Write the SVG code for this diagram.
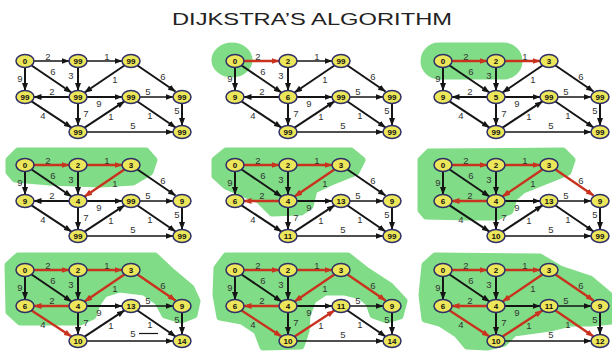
<svg xmlns="http://www.w3.org/2000/svg" width="612" height="351" viewBox="0 0 612 351">
<defs>
<marker id="ah" markerWidth="8" markerHeight="6" refX="7.5" refY="3" orient="auto" markerUnits="userSpaceOnUse"><path d="M0,0 L8,3 L0,6 z" fill="#151515"/></marker>
<marker id="ahr" markerWidth="8" markerHeight="6" refX="7.5" refY="3" orient="auto" markerUnits="userSpaceOnUse"><path d="M0,0 L8,3 L0,6 z" fill="#c8321e"/></marker>
<style>
.bg{fill:#ffffff}
.gr{fill:#80dc86;stroke:#80dc86;stroke-width:7;stroke-linejoin:round}
.e{stroke:#151515;stroke-width:2;fill:none;marker-end:url(#ah)}
.t{stroke-width:1.4}
.r{stroke:#c8321e;stroke-width:2.4;marker-end:url(#ahr)}
.n ellipse{fill:#ece65a;stroke:#2e2e66;stroke-width:1.5}
.n text{font-family:"Liberation Sans",Arial,sans-serif;font-weight:bold;font-size:8px;text-anchor:middle;fill:#111}
.w text{font-family:"Liberation Sans",Arial,sans-serif;font-size:9.5px;text-anchor:middle;fill:#333}
.title{font-family:"Liberation Sans",Arial,sans-serif;font-size:17px;fill:#222}
</style>
</defs>
<rect class="bg" x="0" y="0" width="612" height="351"/>
<text class="title" x="172" y="25" textLength="280" lengthAdjust="spacingAndGlyphs">DIJKSTRA’S ALGORITHM</text>

<!-- Panel 1 -->
<g id="panel1" transform="translate(0,0)">
<g id="p1-edges">
<path class="e t" d="M34,61 L69,61"/><path class="e t" d="M87,61 L122,61"/><path class="e" d="M25,67.5 L25,90.5"/><path class="e" d="M31.6,65.5 L71.4,92.5"/><path class="e" d="M78,67.5 L78,90.5"/><path class="e" d="M124.4,65.5 L84.6,92.5"/><path class="e" d="M137.5,65.5 L175.5,91.5"/><path class="e" d="M69,97 L34,97"/><path class="e" d="M87,97 L122,97"/><path class="e" d="M78,103.5 L78,125.5"/><path class="e" d="M31.6,101.4 L71.4,127.6"/><path class="e" d="M84.6,127.6 L124.4,101.4"/><path class="e t" d="M140,97 L173,97"/><path class="e" d="M137.5,101.5 L175.5,127.5"/><path class="e" d="M182,103.5 L182,125.5"/><path class="e t" d="M87,132 L173,132"/>
</g>
<g class="w"><text x="48" y="60">2</text><text x="107" y="60">1</text><text x="20" y="82">9</text><text x="53" y="75">6</text><text x="71" y="79">3</text><text x="115" y="83">1</text><text x="163" y="80">6</text><text x="52" y="95">2</text><text x="99" y="107">9</text><text x="148" y="95">5</text><text x="86" y="117">7</text><text x="43" y="119">4</text><text x="111" y="120">1</text><text x="150" y="119">1</text><text x="177" y="114">5</text><text x="133" y="129">5</text></g>
<g id="p1-A" class="n"><ellipse cx="25" cy="61" rx="9" ry="6.5"/><text x="25" y="63.8">0</text></g>
<g id="p1-B" class="n"><ellipse cx="78" cy="61" rx="9" ry="6.5"/><text x="78" y="63.8">99</text></g>
<g id="p1-C" class="n"><ellipse cx="131" cy="61" rx="9" ry="6.5"/><text x="131" y="63.8">99</text></g>
<g id="p1-D" class="n"><ellipse cx="25" cy="97" rx="9" ry="6.5"/><text x="25" y="99.8">99</text></g>
<g id="p1-E" class="n"><ellipse cx="78" cy="97" rx="9" ry="6.5"/><text x="78" y="99.8">99</text></g>
<g id="p1-F" class="n"><ellipse cx="131" cy="97" rx="9" ry="6.5"/><text x="131" y="99.8">99</text></g>
<g id="p1-G" class="n"><ellipse cx="182" cy="97" rx="9" ry="6.5"/><text x="182" y="99.8">99</text></g>
<g id="p1-H" class="n"><ellipse cx="78" cy="132" rx="9" ry="6.5"/><text x="78" y="134.8">99</text></g>
<g id="p1-I" class="n"><ellipse cx="182" cy="132" rx="9" ry="6.5"/><text x="182" y="134.8">99</text></g>
</g>

<!-- Panel 2 -->
<g id="panel2" transform="translate(210,0)">
<ellipse class="gr" cx="22" cy="60" rx="17" ry="14"/>
<g id="p2-edges">
<path class="e t r" d="M34,61 L69,61"/><path class="e t" d="M87,61 L122,61"/><path class="e" d="M25,67.5 L25,90.5"/><path class="e" d="M31.6,65.5 L71.4,92.5"/><path class="e" d="M78,67.5 L78,90.5"/><path class="e" d="M124.4,65.5 L84.6,92.5"/><path class="e" d="M137.5,65.5 L175.5,91.5"/><path class="e" d="M69,97 L34,97"/><path class="e" d="M87,97 L122,97"/><path class="e" d="M78,103.5 L78,125.5"/><path class="e" d="M31.6,101.4 L71.4,127.6"/><path class="e" d="M84.6,127.6 L124.4,101.4"/><path class="e t" d="M140,97 L173,97"/><path class="e" d="M137.5,101.5 L175.5,127.5"/><path class="e" d="M182,103.5 L182,125.5"/><path class="e t" d="M87,132 L173,132"/>
</g>
<g class="w"><text x="48" y="60">2</text><text x="107" y="60">1</text><text x="20" y="82">9</text><text x="53" y="75">6</text><text x="71" y="79">3</text><text x="115" y="83">1</text><text x="163" y="80">6</text><text x="52" y="95">2</text><text x="99" y="107">9</text><text x="148" y="95">5</text><text x="86" y="117">7</text><text x="43" y="119">4</text><text x="111" y="120">1</text><text x="150" y="119">1</text><text x="177" y="114">5</text><text x="133" y="129">5</text></g>
<g id="p2-A" class="n"><ellipse cx="25" cy="61" rx="9" ry="6.5"/><text x="25" y="63.8">0</text></g>
<g id="p2-B" class="n"><ellipse cx="78" cy="61" rx="9" ry="6.5"/><text x="78" y="63.8">2</text></g>
<g id="p2-C" class="n"><ellipse cx="131" cy="61" rx="9" ry="6.5"/><text x="131" y="63.8">99</text></g>
<g id="p2-D" class="n"><ellipse cx="25" cy="97" rx="9" ry="6.5"/><text x="25" y="99.8">9</text></g>
<g id="p2-E" class="n"><ellipse cx="78" cy="97" rx="9" ry="6.5"/><text x="78" y="99.8">6</text></g>
<g id="p2-F" class="n"><ellipse cx="131" cy="97" rx="9" ry="6.5"/><text x="131" y="99.8">99</text></g>
<g id="p2-G" class="n"><ellipse cx="182" cy="97" rx="9" ry="6.5"/><text x="182" y="99.8">99</text></g>
<g id="p2-H" class="n"><ellipse cx="78" cy="132" rx="9" ry="6.5"/><text x="78" y="134.8">99</text></g>
<g id="p2-I" class="n"><ellipse cx="182" cy="132" rx="9" ry="6.5"/><text x="182" y="134.8">99</text></g>
</g>

<!-- Panel 3 -->
<g id="panel3" transform="translate(418,0)">
<rect class="gr" x="6" y="46" width="95" height="30" rx="15"/>
<g id="p3-edges">
<path class="e t r" d="M34,61 L69,61"/><path class="e t r" d="M87,61 L122,61"/><path class="e" d="M25,67.5 L25,90.5"/><path class="e" d="M31.6,65.5 L71.4,92.5"/><path class="e" d="M78,67.5 L78,90.5"/><path class="e" d="M124.4,65.5 L84.6,92.5"/><path class="e" d="M137.5,65.5 L175.5,91.5"/><path class="e" d="M69,97 L34,97"/><path class="e" d="M87,97 L122,97"/><path class="e" d="M78,103.5 L78,125.5"/><path class="e" d="M31.6,101.4 L71.4,127.6"/><path class="e" d="M84.6,127.6 L124.4,101.4"/><path class="e t" d="M140,97 L173,97"/><path class="e" d="M137.5,101.5 L175.5,127.5"/><path class="e" d="M182,103.5 L182,125.5"/><path class="e t" d="M87,132 L173,132"/>
</g>
<g class="w"><text x="48" y="60">2</text><text x="107" y="60">1</text><text x="20" y="82">9</text><text x="53" y="75">6</text><text x="71" y="79">3</text><text x="115" y="83">1</text><text x="163" y="80">6</text><text x="52" y="95">2</text><text x="99" y="107">9</text><text x="148" y="95">5</text><text x="86" y="117">7</text><text x="43" y="119">4</text><text x="111" y="120">1</text><text x="150" y="119">1</text><text x="177" y="114">5</text><text x="133" y="129">5</text></g>
<g id="p3-A" class="n"><ellipse cx="25" cy="61" rx="9" ry="6.5"/><text x="25" y="63.8">0</text></g>
<g id="p3-B" class="n"><ellipse cx="78" cy="61" rx="9" ry="6.5"/><text x="78" y="63.8">2</text></g>
<g id="p3-C" class="n"><ellipse cx="131" cy="61" rx="9" ry="6.5"/><text x="131" y="63.8">3</text></g>
<g id="p3-D" class="n"><ellipse cx="25" cy="97" rx="9" ry="6.5"/><text x="25" y="99.8">9</text></g>
<g id="p3-E" class="n"><ellipse cx="78" cy="97" rx="9" ry="6.5"/><text x="78" y="99.8">5</text></g>
<g id="p3-F" class="n"><ellipse cx="131" cy="97" rx="9" ry="6.5"/><text x="131" y="99.8">99</text></g>
<g id="p3-G" class="n"><ellipse cx="182" cy="97" rx="9" ry="6.5"/><text x="182" y="99.8">99</text></g>
<g id="p3-H" class="n"><ellipse cx="78" cy="132" rx="9" ry="6.5"/><text x="78" y="134.8">99</text></g>
<g id="p3-I" class="n"><ellipse cx="182" cy="132" rx="9" ry="6.5"/><text x="182" y="134.8">99</text></g>
</g>

<!-- Panel 4 -->
<g id="panel4" transform="translate(0,104)">
<polygon class="gr" points="9,56 18,47 146,47 154,56 150,68 133,78 100,80 50,78 15,75 9,68"/>
<g id="p4-edges">
<path class="e t r" d="M34,61 L69,61"/><path class="e t r" d="M87,61 L122,61"/><path class="e" d="M25,67.5 L25,90.5"/><path class="e" d="M31.6,65.5 L71.4,92.5"/><path class="e" d="M78,67.5 L78,90.5"/><path class="e r" d="M124.4,65.5 L84.6,92.5"/><path class="e" d="M137.5,65.5 L175.5,91.5"/><path class="e" d="M69,97 L34,97"/><path class="e" d="M87,97 L122,97"/><path class="e" d="M78,103.5 L78,125.5"/><path class="e" d="M31.6,101.4 L71.4,127.6"/><path class="e" d="M84.6,127.6 L124.4,101.4"/><path class="e t" d="M140,97 L173,97"/><path class="e" d="M137.5,101.5 L175.5,127.5"/><path class="e" d="M182,103.5 L182,125.5"/><path class="e t" d="M87,132 L173,132"/>
</g>
<g class="w"><text x="48" y="60">2</text><text x="107" y="60">1</text><text x="20" y="82">9</text><text x="53" y="75">6</text><text x="71" y="79">3</text><text x="115" y="83">1</text><text x="163" y="80">6</text><text x="52" y="95">2</text><text x="99" y="107">9</text><text x="148" y="95">5</text><text x="86" y="117">7</text><text x="43" y="119">4</text><text x="111" y="120">1</text><text x="150" y="119">1</text><text x="177" y="114">5</text><text x="133" y="129">5</text></g>
<g id="p4-A" class="n"><ellipse cx="25" cy="61" rx="9" ry="6.5"/><text x="25" y="63.8">0</text></g>
<g id="p4-B" class="n"><ellipse cx="78" cy="61" rx="9" ry="6.5"/><text x="78" y="63.8">2</text></g>
<g id="p4-C" class="n"><ellipse cx="131" cy="61" rx="9" ry="6.5"/><text x="131" y="63.8">3</text></g>
<g id="p4-D" class="n"><ellipse cx="25" cy="97" rx="9" ry="6.5"/><text x="25" y="99.8">9</text></g>
<g id="p4-E" class="n"><ellipse cx="78" cy="97" rx="9" ry="6.5"/><text x="78" y="99.8">4</text></g>
<g id="p4-F" class="n"><ellipse cx="131" cy="97" rx="9" ry="6.5"/><text x="131" y="99.8">99</text></g>
<g id="p4-G" class="n"><ellipse cx="182" cy="97" rx="9" ry="6.5"/><text x="182" y="99.8">9</text></g>
<g id="p4-H" class="n"><ellipse cx="78" cy="132" rx="9" ry="6.5"/><text x="78" y="134.8">99</text></g>
<g id="p4-I" class="n"><ellipse cx="182" cy="132" rx="9" ry="6.5"/><text x="182" y="134.8">99</text></g>
</g>

<!-- Panel 5 -->
<g id="panel5" transform="translate(210,104)">
<polygon class="gr" points="5,56 16,47 141,47 152,56 146,68 121,78 104,86 100,102 91,108 62,109 49,96 16,82 5,72"/>
<g id="p5-edges">
<path class="e t r" d="M34,61 L69,61"/><path class="e t r" d="M87,61 L122,61"/><path class="e" d="M25,67.5 L25,90.5"/><path class="e" d="M31.6,65.5 L71.4,92.5"/><path class="e" d="M78,67.5 L78,90.5"/><path class="e r" d="M124.4,65.5 L84.6,92.5"/><path class="e" d="M137.5,65.5 L175.5,91.5"/><path class="e r" d="M69,97 L34,97"/><path class="e" d="M87,97 L122,97"/><path class="e" d="M78,103.5 L78,125.5"/><path class="e" d="M31.6,101.4 L71.4,127.6"/><path class="e" d="M84.6,127.6 L124.4,101.4"/><path class="e t" d="M140,97 L173,97"/><path class="e" d="M137.5,101.5 L175.5,127.5"/><path class="e" d="M182,103.5 L182,125.5"/><path class="e t" d="M87,132 L173,132"/>
</g>
<g class="w"><text x="48" y="60">2</text><text x="107" y="60">1</text><text x="20" y="82">9</text><text x="53" y="75">6</text><text x="71" y="79">3</text><text x="115" y="83">1</text><text x="163" y="80">6</text><text x="52" y="95">2</text><text x="99" y="107">9</text><text x="148" y="95">5</text><text x="86" y="117">7</text><text x="43" y="119">4</text><text x="111" y="120">1</text><text x="150" y="119">1</text><text x="177" y="114">5</text><text x="133" y="129">5</text></g>
<g id="p5-A" class="n"><ellipse cx="25" cy="61" rx="9" ry="6.5"/><text x="25" y="63.8">0</text></g>
<g id="p5-B" class="n"><ellipse cx="78" cy="61" rx="9" ry="6.5"/><text x="78" y="63.8">2</text></g>
<g id="p5-C" class="n"><ellipse cx="131" cy="61" rx="9" ry="6.5"/><text x="131" y="63.8">3</text></g>
<g id="p5-D" class="n"><ellipse cx="25" cy="97" rx="9" ry="6.5"/><text x="25" y="99.8">6</text></g>
<g id="p5-E" class="n"><ellipse cx="78" cy="97" rx="9" ry="6.5"/><text x="78" y="99.8">4</text></g>
<g id="p5-F" class="n"><ellipse cx="131" cy="97" rx="9" ry="6.5"/><text x="131" y="99.8">13</text></g>
<g id="p5-G" class="n"><ellipse cx="182" cy="97" rx="9" ry="6.5"/><text x="182" y="99.8">9</text></g>
<g id="p5-H" class="n"><ellipse cx="78" cy="132" rx="9" ry="6.5"/><text x="78" y="134.8">11</text></g>
<g id="p5-I" class="n"><ellipse cx="182" cy="132" rx="9" ry="6.5"/><text x="182" y="134.8">99</text></g>
</g>

<!-- Panel 6 -->
<g id="panel6" transform="translate(418,104)">
<polygon class="gr" points="3,56 11,48 145,47 154,56 150,68 125,78 105,86 96,94 92,107 79,113 52,113 8,112 3,106"/>
<g id="p6-edges">
<path class="e t r" d="M34,61 L69,61"/><path class="e t r" d="M87,61 L122,61"/><path class="e" d="M25,67.5 L25,90.5"/><path class="e" d="M31.6,65.5 L71.4,92.5"/><path class="e" d="M78,67.5 L78,90.5"/><path class="e r" d="M124.4,65.5 L84.6,92.5"/><path class="e r" d="M137.5,65.5 L175.5,91.5"/><path class="e r" d="M69,97 L34,97"/><path class="e" d="M87,97 L122,97"/><path class="e" d="M78,103.5 L78,125.5"/><path class="e" d="M31.6,101.4 L71.4,127.6"/><path class="e" d="M84.6,127.6 L124.4,101.4"/><path class="e t" d="M140,97 L173,97"/><path class="e" d="M137.5,101.5 L175.5,127.5"/><path class="e" d="M182,103.5 L182,125.5"/><path class="e t" d="M87,132 L173,132"/>
</g>
<g class="w"><text x="48" y="60">2</text><text x="107" y="60">1</text><text x="20" y="82">9</text><text x="53" y="75">6</text><text x="71" y="79">3</text><text x="115" y="83">1</text><text x="163" y="80">6</text><text x="52" y="95">2</text><text x="99" y="107">9</text><text x="148" y="95">5</text><text x="86" y="117">7</text><text x="43" y="119">4</text><text x="111" y="120">1</text><text x="150" y="119">1</text><text x="177" y="114">5</text><text x="133" y="129">5</text></g>
<g id="p6-A" class="n"><ellipse cx="25" cy="61" rx="9" ry="6.5"/><text x="25" y="63.8">0</text></g>
<g id="p6-B" class="n"><ellipse cx="78" cy="61" rx="9" ry="6.5"/><text x="78" y="63.8">2</text></g>
<g id="p6-C" class="n"><ellipse cx="131" cy="61" rx="9" ry="6.5"/><text x="131" y="63.8">3</text></g>
<g id="p6-D" class="n"><ellipse cx="25" cy="97" rx="9" ry="6.5"/><text x="25" y="99.8">6</text></g>
<g id="p6-E" class="n"><ellipse cx="78" cy="97" rx="9" ry="6.5"/><text x="78" y="99.8">4</text></g>
<g id="p6-F" class="n"><ellipse cx="131" cy="97" rx="9" ry="6.5"/><text x="131" y="99.8">13</text></g>
<g id="p6-G" class="n"><ellipse cx="182" cy="97" rx="9" ry="6.5"/><text x="182" y="99.8">9</text></g>
<g id="p6-H" class="n"><ellipse cx="78" cy="132" rx="9" ry="6.5"/><text x="78" y="134.8">10</text></g>
<g id="p6-I" class="n"><ellipse cx="182" cy="132" rx="9" ry="6.5"/><text x="182" y="134.8">99</text></g>
</g>

<!-- Panel 7 -->
<g id="panel7" transform="translate(0,209)">
<polygon class="gr" points="8,56 18,47 155,47 172,63 191,79 197,92 194,106 181,111 165,106 158,93 144,83 120,80 104,85 97,95 93,107 80,113 20,113 9,103"/>
<g id="p7-edges">
<path class="e t r" d="M34,61 L69,61"/><path class="e t r" d="M87,61 L122,61"/><path class="e" d="M25,67.5 L25,90.5"/><path class="e" d="M31.6,65.5 L71.4,92.5"/><path class="e" d="M78,67.5 L78,90.5"/><path class="e r" d="M124.4,65.5 L84.6,92.5"/><path class="e r" d="M137.5,65.5 L175.5,91.5"/><path class="e r" d="M69,97 L34,97"/><path class="e" d="M87,97 L122,97"/><path class="e" d="M78,103.5 L78,125.5"/><path class="e r" d="M31.6,101.4 L71.4,127.6"/><path class="e" d="M84.6,127.6 L124.4,101.4"/><path class="e t" d="M140,97 L173,97"/><path class="e" d="M137.5,101.5 L175.5,127.5"/><path class="e" d="M182,103.5 L182,125.5"/><path class="e t" d="M87,132 L173,132"/>
<path d="M139,124.5 L158,124.5" stroke="#151515" stroke-width="1.2"/>
</g>
<g class="w"><text x="48" y="60">2</text><text x="107" y="60">1</text><text x="20" y="82">9</text><text x="53" y="75">6</text><text x="71" y="79">3</text><text x="115" y="83">1</text><text x="163" y="80">6</text><text x="52" y="95">2</text><text x="99" y="107">9</text><text x="148" y="95">5</text><text x="86" y="117">7</text><text x="43" y="119">4</text><text x="111" y="120">1</text><text x="150" y="119">1</text><text x="177" y="114">5</text><text x="133" y="128">5</text></g>
<g id="p7-A" class="n"><ellipse cx="25" cy="61" rx="9" ry="6.5"/><text x="25" y="63.8">0</text></g>
<g id="p7-B" class="n"><ellipse cx="78" cy="61" rx="9" ry="6.5"/><text x="78" y="63.8">2</text></g>
<g id="p7-C" class="n"><ellipse cx="131" cy="61" rx="9" ry="6.5"/><text x="131" y="63.8">3</text></g>
<g id="p7-D" class="n"><ellipse cx="25" cy="97" rx="9" ry="6.5"/><text x="25" y="99.8">6</text></g>
<g id="p7-E" class="n"><ellipse cx="78" cy="97" rx="9" ry="6.5"/><text x="78" y="99.8">4</text></g>
<g id="p7-F" class="n"><ellipse cx="131" cy="97" rx="9" ry="6.5"/><text x="131" y="99.8">13</text></g>
<g id="p7-G" class="n"><ellipse cx="182" cy="97" rx="9" ry="6.5"/><text x="182" y="99.8">9</text></g>
<g id="p7-H" class="n"><ellipse cx="78" cy="132" rx="9" ry="6.5"/><text x="78" y="134.8">10</text></g>
<g id="p7-I" class="n"><ellipse cx="182" cy="132" rx="9" ry="6.5"/><text x="182" y="134.8">14</text></g>
</g>

<!-- Panel 8 -->
<g id="panel8" transform="translate(210,209)">
<polygon class="gr" points="7,59 16,47 138,47 157,62 180,77 194,92 190,107 177,111 163,106 159,94 151,87 135,83 115,83 103,91 97,106 96,122 91,137 53,138 47,122 32,112 10,108 6,86"/>
<g id="p8-edges">
<path class="e t r" d="M34,61 L69,61"/><path class="e t r" d="M87,61 L122,61"/><path class="e" d="M25,67.5 L25,90.5"/><path class="e" d="M31.6,65.5 L71.4,92.5"/><path class="e" d="M78,67.5 L78,90.5"/><path class="e r" d="M124.4,65.5 L84.6,92.5"/><path class="e r" d="M137.5,65.5 L175.5,91.5"/><path class="e r" d="M69,97 L34,97"/><path class="e" d="M87,97 L122,97"/><path class="e" d="M78,103.5 L78,125.5"/><path class="e r" d="M31.6,101.4 L71.4,127.6"/><path class="e r" d="M84.6,127.6 L124.4,101.4"/><path class="e t" d="M140,97 L173,97"/><path class="e" d="M137.5,101.5 L175.5,127.5"/><path class="e" d="M182,103.5 L182,125.5"/><path class="e t" d="M87,132 L173,132"/>
</g>
<g class="w"><text x="48" y="60">2</text><text x="107" y="60">1</text><text x="20" y="82">9</text><text x="53" y="75">6</text><text x="71" y="79">3</text><text x="115" y="83">1</text><text x="163" y="80">6</text><text x="52" y="95">2</text><text x="99" y="107">9</text><text x="148" y="95">5</text><text x="86" y="117">7</text><text x="43" y="119">4</text><text x="111" y="120">1</text><text x="150" y="119">1</text><text x="177" y="114">5</text><text x="133" y="129">5</text></g>
<g id="p8-A" class="n"><ellipse cx="25" cy="61" rx="9" ry="6.5"/><text x="25" y="63.8">0</text></g>
<g id="p8-B" class="n"><ellipse cx="78" cy="61" rx="9" ry="6.5"/><text x="78" y="63.8">2</text></g>
<g id="p8-C" class="n"><ellipse cx="131" cy="61" rx="9" ry="6.5"/><text x="131" y="63.8">3</text></g>
<g id="p8-D" class="n"><ellipse cx="25" cy="97" rx="9" ry="6.5"/><text x="25" y="99.8">6</text></g>
<g id="p8-E" class="n"><ellipse cx="78" cy="97" rx="9" ry="6.5"/><text x="78" y="99.8">4</text></g>
<g id="p8-F" class="n"><ellipse cx="131" cy="97" rx="9" ry="6.5"/><text x="131" y="99.8">11</text></g>
<g id="p8-G" class="n"><ellipse cx="182" cy="97" rx="9" ry="6.5"/><text x="182" y="99.8">9</text></g>
<g id="p8-H" class="n"><ellipse cx="78" cy="132" rx="9" ry="6.5"/><text x="78" y="134.8">10</text></g>
<g id="p8-I" class="n"><ellipse cx="182" cy="132" rx="9" ry="6.5"/><text x="182" y="134.8">14</text></g>
</g>

<!-- Panel 9 -->
<g id="panel9" transform="translate(418,209)">
<polygon class="gr" points="7,56 17,47 122,48 142,60 172,70 191,86 194,112 172,114 152,114 132,119 96,124 86,134 69,138 49,137 39,125 22,114 7,110 4,86"/>
<g id="p9-edges">
<path class="e t r" d="M34,61 L69,61"/><path class="e t r" d="M87,61 L122,61"/><path class="e" d="M25,67.5 L25,90.5"/><path class="e" d="M31.6,65.5 L71.4,92.5"/><path class="e" d="M78,67.5 L78,90.5"/><path class="e r" d="M124.4,65.5 L84.6,92.5"/><path class="e r" d="M137.5,65.5 L175.5,91.5"/><path class="e r" d="M69,97 L34,97"/><path class="e" d="M87,97 L122,97"/><path class="e" d="M78,103.5 L78,125.5"/><path class="e r" d="M31.6,101.4 L71.4,127.6"/><path class="e r" d="M84.6,127.6 L124.4,101.4"/><path class="e t" d="M140,97 L173,97"/><path class="e r" d="M137.5,101.5 L175.5,127.5"/><path class="e" d="M182,103.5 L182,125.5"/><path class="e t" d="M87,132 L173,132"/>
</g>
<g class="w"><text x="48" y="60">2</text><text x="107" y="60">1</text><text x="20" y="82">9</text><text x="53" y="75">6</text><text x="71" y="79">3</text><text x="115" y="83">1</text><text x="163" y="80">6</text><text x="52" y="95">2</text><text x="99" y="107">9</text><text x="148" y="95">5</text><text x="86" y="117">7</text><text x="43" y="119">4</text><text x="111" y="120">1</text><text x="150" y="119">1</text><text x="177" y="114">5</text><text x="133" y="129">5</text></g>
<g id="p9-A" class="n"><ellipse cx="25" cy="61" rx="9" ry="6.5"/><text x="25" y="63.8">0</text></g>
<g id="p9-B" class="n"><ellipse cx="78" cy="61" rx="9" ry="6.5"/><text x="78" y="63.8">2</text></g>
<g id="p9-C" class="n"><ellipse cx="131" cy="61" rx="9" ry="6.5"/><text x="131" y="63.8">3</text></g>
<g id="p9-D" class="n"><ellipse cx="25" cy="97" rx="9" ry="6.5"/><text x="25" y="99.8">6</text></g>
<g id="p9-E" class="n"><ellipse cx="78" cy="97" rx="9" ry="6.5"/><text x="78" y="99.8">4</text></g>
<g id="p9-F" class="n"><ellipse cx="131" cy="97" rx="9" ry="6.5"/><text x="131" y="99.8">11</text></g>
<g id="p9-G" class="n"><ellipse cx="182" cy="97" rx="9" ry="6.5"/><text x="182" y="99.8">9</text></g>
<g id="p9-H" class="n"><ellipse cx="78" cy="132" rx="9" ry="6.5"/><text x="78" y="134.8">10</text></g>
<g id="p9-I" class="n"><ellipse cx="182" cy="132" rx="9" ry="6.5"/><text x="182" y="134.8">12</text></g>
</g>
</svg>
